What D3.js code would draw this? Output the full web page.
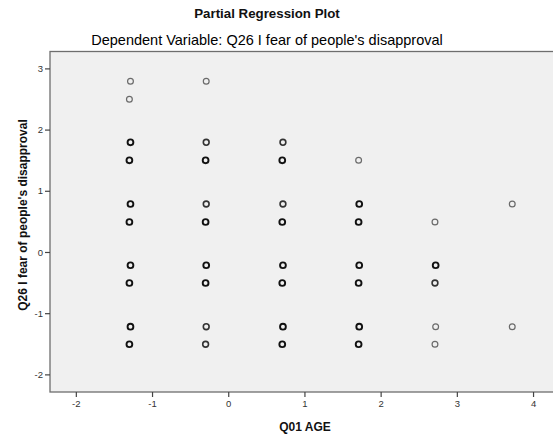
<!DOCTYPE html>
<html>
<head>
<meta charset="utf-8">
<script src="https://cdn.jsdelivr.net/npm/d3@7/dist/d3.min.js"></script>
<style>
  html, body { margin: 0; padding: 0; background: #fff; }
  svg { display: block; font-family: "Liberation Sans", Arial, sans-serif; }
</style>
</head>
<body>
<svg id="chart" width="553" height="440"></svg>
<script>
// Partial residuals: AGE (x) against Q26 (y); count = how many cases share the spot
const ageResid = [
  -1.283, -1.297, -1.283, -1.297, -1.283, -1.297, -1.283, -1.297, -1.283, -1.297,
  -0.289, -0.289, -0.297, -0.289, -0.297, -0.289, -0.297, -0.289, -0.297,
  0.718, 0.709, 0.718, 0.709, 0.718, 0.709, 0.718, 0.709,
  1.711, 1.719, 1.711, 1.719, 1.711, 1.719, 1.711,
  2.713, 2.722, 2.713, 2.722, 2.713,
  3.727, 3.727
];
const fearResid = [
  2.789, 2.495, 1.792, 1.498, 0.784, 0.490, -0.217, -0.507, -1.221, -1.508,
  2.789, 1.792, 1.498, 0.784, 0.490, -0.217, -0.507, -1.221, -1.508,
  1.792, 1.498, 0.784, 0.490, -0.217, -0.507, -1.221, -1.508,
  1.498, 0.784, 0.490, -0.217, -0.507, -1.221, -1.508,
  0.490, -0.217, -0.507, -1.221, -1.508,
  0.784, -1.221
];
const caseCount = [
  1, 1, 3, 3, 3, 3, 3, 3, 3, 3,
  1, 2, 3, 2, 3, 3, 3, 2, 2,
  2, 3, 2, 3, 3, 3, 3, 3,
  1, 3, 3, 3, 3, 3, 3,
  1, 3, 2, 1, 1,
  1, 1
];
const xTicks = [-2, -1, 0, 1, 2, 3, 4];
const yTicks = [-2, -1, 0, 1, 2, 3];

const chartTitle = "Partial Regression Plot";
const chartSubtitle = "Dependent Variable: Q26 I fear of people's disapproval";
const xTitle = "Q01 AGE";
const yTitle = "Q26 I fear of people's disapproval";

const svg = d3.select("#chart");
const plot = { left: 50, top: 51.5, right: 562, bottom: 392 };

const x = d3.scaleLinear().domain([-2.339, 4.380]).range([plot.left, plot.right]);
const y = d3.scaleLinear().domain([-2.288, 3.276]).range([plot.bottom, plot.top]);

// plot background and frame
svg.append("rect")
  .attr("x", plot.left).attr("y", plot.top)
  .attr("width", plot.right - plot.left).attr("height", plot.bottom - plot.top)
  .attr("fill", "#f0f0f0")
  .attr("stroke", "#6e6e6e").attr("stroke-width", 1.3);

// axes
const xAxis = svg.append("g")
  .attr("transform", `translate(0,${plot.bottom})`)
  .call(d3.axisBottom(x).tickValues(xTicks).tickSize(5).tickPadding(3).tickFormat(d3.format("d")));
const yAxis = svg.append("g")
  .attr("transform", `translate(${plot.left},0)`)
  .call(d3.axisLeft(y).tickValues(yTicks).tickSize(5).tickPadding(2).tickFormat(d3.format("d")));

[xAxis, yAxis].forEach(g => {
  g.select(".domain").remove();
  g.selectAll(".tick line").attr("stroke", "#444").attr("stroke-width", 1.2);
  g.selectAll(".tick text")
    .attr("fill", "#333")
    .style("font-size", "9.5px")
    .style("font-family", "'Liberation Sans', Arial, sans-serif")
    .text(d => d < 0 ? "-" + Math.abs(d) : d);
});

// points
const pts = ageResid.map((v, i) => ({ ax: v, fy: fearResid[i], n: caseCount[i] }));
svg.append("g").selectAll("circle")
  .data(pts)
  .join("circle")
  .attr("cx", d => x(d.ax))
  .attr("cy", d => y(d.fy))
  .attr("r", 2.9)
  .attr("fill", "none")
  .attr("stroke", d => d.n >= 3 ? "#111" : d.n === 2 ? "#333" : "#6a6a6a")
  .attr("stroke-width", d => d.n >= 3 ? 1.9 : d.n === 2 ? 1.6 : 1.2);

// titles
svg.append("text")
  .attr("x", 267).attr("y", 17.5)
  .attr("text-anchor", "middle")
  .style("font-size", "13.3px").style("font-weight", "bold")
  .attr("fill", "#111")
  .text(chartTitle);

svg.append("text")
  .attr("x", 267).attr("y", 45)
  .attr("text-anchor", "middle")
  .style("font-size", "14.5px")
  .attr("fill", "#000")
  .text(chartSubtitle);

svg.append("text")
  .attr("x", 305).attr("y", 430.5)
  .attr("text-anchor", "middle")
  .style("font-size", "12px").style("font-weight", "bold")
  .attr("fill", "#111")
  .text(xTitle);

svg.append("text")
  .attr("transform", "translate(27,215) rotate(-90)")
  .attr("text-anchor", "middle")
  .style("font-size", "12px").style("font-weight", "bold")
  .attr("fill", "#111")
  .text(yTitle);
</script>
</body>
</html>
